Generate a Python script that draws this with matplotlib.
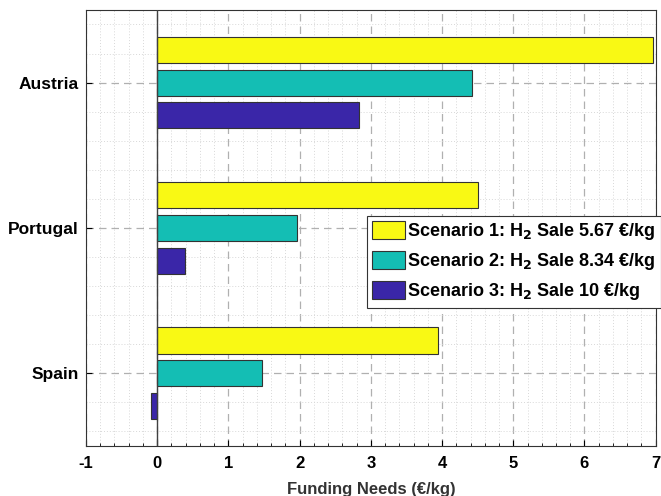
import numpy as np
import matplotlib.pyplot as plt
from matplotlib.ticker import MultipleLocator

plt.rcParams['font.family'] = ['Liberation Sans', 'DejaVu Sans']
plt.rcParams['font.weight'] = 'bold'
plt.rcParams['mathtext.default'] = 'bf'
plt.rcParams['axes.unicode_minus'] = False

countries = ["Austria", "Portugal", "Spain"]
scenario_1 = [6.96, 4.50, 3.95]
scenario_2 = [4.42, 1.96, 1.47]
scenario_3 = [2.84, 0.39, -0.08]
labels = [r"Scenario 1: H$_2$ Sale 5.67 €/kg",
          r"Scenario 2: H$_2$ Sale 8.34 €/kg",
          r"Scenario 3: H$_2$ Sale 10 €/kg"]
colors = ["#F9F914", "#14BEB4", "#3A26A8"]

fig = plt.figure(figsize=(6.61, 4.96), dpi=100)
ax = fig.add_axes([0.130, 0.101, 0.862, 0.879])

y = np.arange(1, len(countries) + 1)
h = 0.18
step = 0.225
for i, (vals, lab, c) in enumerate(zip([scenario_1, scenario_2, scenario_3], labels, colors)):
    ax.barh(y + (i - 1) * step, vals, height=h, color=c, edgecolor="#333333",
            linewidth=0.8, label=lab, zorder=3)

ax.axvline(0, color="#404040", lw=1.0, zorder=4)

ax.set_xlim(-1, 7)
ax.set_ylim(3.5, 0.5)
ax.set_yticks(y)
ax.set_yticklabels(countries, fontsize=12.5, fontweight="bold")
ax.xaxis.set_major_locator(MultipleLocator(1))
ax.xaxis.set_minor_locator(MultipleLocator(0.2))
ax.yaxis.set_minor_locator(MultipleLocator(0.2))
ax.tick_params(axis="x", labelsize=12, length=4, direction="in", top=False, pad=7)
ax.tick_params(axis="y", length=4, direction="in", pad=5)
ax.tick_params(which="minor", length=2, direction="in")
ax.tick_params(axis="y", which="minor", length=0)
for t in ax.get_xticklabels():
    t.set_fontweight("bold")

ax.grid(True, which="major", linestyle=(0, (6, 4)), color="#b0b0b0", lw=0.9, zorder=0)
ax.grid(True, which="minor", linestyle=(0, (1, 2)), color="#d8d8d8", lw=0.7, zorder=0)
for s in ax.spines.values():
    s.set_color("#333333")
    s.set_linewidth(0.8)

ax.set_xlabel("Funding Needs (€/kg)", fontsize=12, fontweight="bold", color="#333333", labelpad=8)

leg = ax.legend(loc="upper left", bbox_to_anchor=(0.493, 0.528),
                prop={"weight": "bold", "size": 13}, frameon=True, fancybox=False,
                edgecolor="#333333", framealpha=1, handlelength=1.8, handleheight=1.1,
                labelspacing=0.5, borderpad=0.3, handletextpad=0.15, borderaxespad=0)
leg.get_frame().set_linewidth(0.8)

fig.savefig("out.png", dpi=100)
